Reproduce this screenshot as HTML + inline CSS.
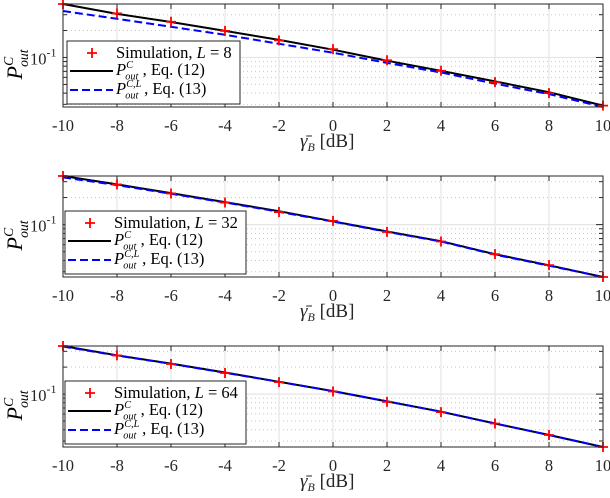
<!DOCTYPE html>
<html><head><meta charset="utf-8">
<style>
html,body{margin:0;padding:0;background:#fff;}
svg{display:block;font-family:"Liberation Serif",serif;}
</style></head>
<body>
<svg id="chart" width="610" height="498" viewBox="0 0 610 498" xmlns="http://www.w3.org/2000/svg"></svg>
<script>
const snrDb = [-10,-8,-6,-4,-2,0,2,4,6,8,10];
const xTicks = [-10,-8,-6,-4,-2,0,2,4,6,8,10];
const panelL = [8, 32, 64];
const simL8 = [0.395,0.31,0.25,0.198,0.155,0.124,0.093,0.071,0.053,0.040,0.029];
const exactL8 = [0.395,0.306,0.249,0.198,0.157,0.122,0.092,0.071,0.054,0.041,0.029];
const approxL8 = [0.33,0.27,0.22,0.179,0.142,0.113,0.087,0.068,0.051,0.039,0.028];
const simL32 = [0.347,0.28,0.222,0.176,0.138,0.110,0.083,0.065,0.047,0.0355,0.0262];
const exactL32 = [0.347,0.28,0.224,0.178,0.141,0.109,0.084,0.0655,0.047,0.0353,0.0262];
const approxL32 = [0.335,0.275,0.22,0.176,0.139,0.108,0.083,0.065,0.0465,0.035,0.0262];
const simL64 = [0.344,0.27,0.217,0.172,0.136,0.107,0.082,0.063,0.047,0.035,0.0257];
const exactL64 = [0.344,0.271,0.219,0.174,0.137,0.108,0.083,0.0636,0.047,0.035,0.0257];
const approxL64 = [0.34,0.269,0.218,0.173,0.137,0.108,0.083,0.0636,0.047,0.035,0.0257];
const yMin = [0.028,0.0262,0.0257];
const yMax = [0.395,0.347,0.344];

const NS="http://www.w3.org/2000/svg";
const svg=document.getElementById('chart');
function mk(tag,attrs,parent){const e=document.createElementNS(NS,tag);for(const k in attrs)e.setAttribute(k,attrs[k]);(parent||svg).appendChild(e);return e;}
function txt(parent,x,y,s,size,extra){const t=mk('text',Object.assign({x:x,y:y,'font-size':size,fill:'#000'},extra||{}),parent);t.textContent=s;return t;}
// P with super/sub
function pSym(parent,x,y,size,sup,rest){
  const g=mk('g',{},parent);
  txt(g,x,y,'P',size,{'font-style':'italic'});
  const sx=x+size*0.62, ss=size*0.62;
  txt(g,sx,y-size*0.42,sup,ss,{'font-style':'italic'});
  txt(g,sx-1,y+size*0.28,'out',ss,{'font-style':'italic'});
  if(rest!==undefined){const w=Math.max(sup.length*ss*0.55, 3*ss*0.5);
    txt(g,sx+w+1,y,rest,size);}
  return g;
}

const layout=[{top:4,bot:107,tl:125,xl:147},{top:176,bot:277,tl:295,xl:317},{top:346,bot:447,tl:465,xl:487}];
const X0=63,X1=603;
const sims=[simL8,simL32,simL64],exacts=[exactL8,exactL32,exactL64],approxs=[approxL8,approxL32,approxL64];

for(let p=0;p<3;p++){
  const L=layout[p];
  const g=mk('g',{});
  
  
  const lmin=Math.log10(yMin[p]),lmax=Math.log10(yMax[p]);
  const xs=v=>X0+(v-(-10))/20*(X1-X0);
  const ys=v=>L.bot-(Math.log10(v)-lmin)/(lmax-lmin)*(L.bot-L.top);
  mk('rect',{x:X0,y:L.top,width:X1-X0,height:L.bot-L.top,fill:'#fff'},g);
  const minors=[0.02,0.03,0.04,0.05,0.06,0.07,0.08,0.09,0.2,0.3,0.4,0.5];
  minors.forEach(v=>{ if(v>yMin[p]&&v<yMax[p]){const y=ys(v);
    const ln=mk('line',{x1:X0,x2:X1,y1:y,y2:y,stroke:'#c8c8c8','stroke-width':1,'stroke-dasharray':'1,3'},g);
    
    mk('line',{x1:X0,x2:X0+4,y1:y,y2:y,stroke:'#262626','stroke-width':1},g);
    mk('line',{x1:X1,x2:X1-4,y1:y,y2:y,stroke:'#262626','stroke-width':1},g);}});
  xTicks.forEach(t=>{const x=xs(t);
    const gl=mk('line',{x1:x,x2:x,y1:L.top,y2:L.bot,stroke:'#e6e6e6','stroke-width':1.2},g);
    
    mk('line',{x1:x,x2:x,y1:L.bot,y2:L.bot-5,stroke:'#262626','stroke-width':1},g);
    mk('line',{x1:x,x2:x,y1:L.top,y2:L.top+5,stroke:'#262626','stroke-width':1},g);
    const tx=mk('text',{x:x,y:L.tl+6,'text-anchor':'middle','font-size':16.5,fill:'#262626'},g);
    tx.textContent=String(t);
    
    
  });
  const ym=ys(0.1);
  mk('line',{x1:X0,x2:X1,y1:ym,y2:ym,stroke:'#e6e6e6','stroke-width':1.2},g);
  mk('line',{x1:X0,x2:X0+7,y1:ym,y2:ym,stroke:'#262626','stroke-width':1},g);
  mk('line',{x1:X1,x2:X1-7,y1:ym,y2:ym,stroke:'#262626','stroke-width':1},g);
  const yt=mk('text',{x:30,y:ym+7,'font-size':16.5,fill:'#262626'},g);
  yt.innerHTML='10<tspan dy="-8" font-size="12">-1</tspan>';
  
  
  const pts=arr=>arr.map((v,i)=>xs(snrDb[i]).toFixed(1)+','+ys(v).toFixed(1)).join(' ');
  const ex=mk('polyline',{points:pts(exacts[p]),fill:'none',stroke:'#000','stroke-width':2},g);
  
  
  const ap=mk('polyline',{points:pts(approxs[p]),fill:'none',stroke:'#0000ff','stroke-width':2,'stroke-dasharray':'8,4'},g);
  
  
  sims[p].forEach((v,i)=>{const x=xs(snrDb[i]),y=ys(v);
    const m=mk('path',{d:`M${x-5},${y}H${x+5}M${x},${y-5}V${y+5}`,stroke:'#ff0000','stroke-width':1.8},g);
    
    });
  mk('rect',{x:X0,y:L.top,width:X1-X0,height:L.bot-L.top,fill:'none',stroke:'#262626','stroke-width':1},g);
  // legend
  const lx=p==0?67:65, lw=p==0?173:181, ly=p==0?41:L.top+35, lh=63;
  const lg=mk('g',{},g);
  
  
  mk('rect',{x:lx,y:ly,width:lw,height:lh,fill:'#fff',stroke:'#262626','stroke-width':1},lg);
  const r1=ly+12,r2=ly+30,r3=ly+49;
  mk('path',{d:`M${lx+20},${r1}h10M${lx+25},${r1-5}v10`,stroke:'#ff0000','stroke-width':1.8},lg);
  mk('line',{x1:lx+3,x2:lx+46,y1:r2,y2:r2,stroke:'#000','stroke-width':2},lg);
  mk('line',{x1:lx+3,x2:lx+46,y1:r3,y2:r3,stroke:'#0000ff','stroke-width':2,'stroke-dasharray':'8,4'},lg);
  const t1=mk('text',{x:lx+49,y:r1+5,'font-size':16.5,fill:'#000'},lg);
  t1.innerHTML='Simulation, <tspan font-style="italic">L</tspan> = '+panelL[p];
  
  const t2=pSym(lg,lx+49,r2+4,16.5,'C',', Eq. (12)');
  
  const t3=pSym(lg,lx+49,r3+4,16.5,'C,L',', Eq. (13)');
  
  // labels
  const xl=mk('text',{x:300,y:L.xl,'font-size':19,fill:'#262626'},g);
  xl.innerHTML='<tspan font-style="italic">γ̄</tspan><tspan font-size="12" font-style="italic" dy="4">B</tspan><tspan dy="-4"> [dB]</tspan>';
  
  
  const cy=(L.top+L.bot)/2+24;
  const ylg=mk('g',{transform:`translate(22,${cy}) rotate(-90)`},g);
  
  
  pSym(ylg,0,0,22,'C');
}
</script>
</body></html>
